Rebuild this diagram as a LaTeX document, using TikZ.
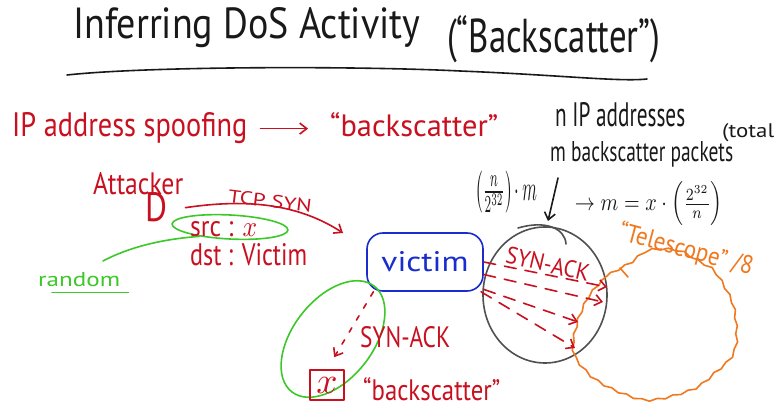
\documentclass[tikz,border=0pt]{standalone}
\usepackage{fontspec}
\setmainfont{PT Sans}
\usepackage{graphicx}
\usetikzlibrary{arrows.meta,shapes.geometric,decorations.pathmorphing}

% text box scaled to a given width and height above the baseline
\newcommand\hw[3]{\resizebox{#1pt}{#2pt}{#3}}

\definecolor{ink}{RGB}{25,25,25}
\definecolor{penred}{RGB}{200,16,32}
\definecolor{pengreen}{RGB}{60,200,40}
\definecolor{penblue}{RGB}{25,45,205}
\definecolor{penorange}{RGB}{240,120,30}
\definecolor{pengray}{RGB}{80,80,80}

\begin{document}
\begin{tikzpicture}[x=1pt,y=-1pt,
  txt/.style={inner sep=0pt, anchor=base west},
  lbl/.style={inner sep=0pt},
  stroke/.style={line width=1.6pt, line cap=round, line join=round},
  barb/.style={-{Straight Barb[length=7pt,width=11pt]}},
  ray/.style={stroke, penred, dash pattern=on 12pt off 9pt, barb},
  ring/.style={ellipse, draw, line width=1.6pt, inner sep=0pt}]

\fill[white] (0,0) rectangle (781,419);
\useasboundingbox (0,0) rectangle (781,419);

% ---- heading ----
\node[txt, text=ink] (title) at (73,39) {\hw{347}{31}{Inferring DoS Activity}};
\node[txt, text=ink] (titleb) at (447,53) {\hw{213}{37}{(“Backscatter”)}};
\draw[stroke, ink] (67,75) .. controls (150,66) and (360,66) .. (460,71)
  .. controls (560,75) and (620,82) .. (647,79);

% ---- spoofing line ----
\node[txt, text=penred] (spoof) at (12,137) {\hw{235}{24}{IP address spoofing}};
\node[txt, text=penred] (bs) at (330,137) {\hw{168}{24}{“backscatter”}};
\draw[stroke, penred, barb, shorten <=13pt, shorten >=22pt]
  (spoof.east) -- (spoof.east -| bs.west);

% ---- estimate ----
\node[txt, text=ink] (naddr) at (555,127) {\hw{130}{24}{n IP addresses}};
\node[txt, text=ink] (total) at (722,138) {\hw{52}{14}{(total}};
\node[txt, text=ink] (mpk) at (550,162) {\hw{183}{20}{m backscatter packets}};
\node[lbl, text=ink] (frac) at (506,192)
  {\resizebox*{62pt}{42pt}{$\left(\frac{n}{2^{32}}\right)\!\cdot m$}};
\node[lbl, text=ink] (mform) at (649,204)
  {\resizebox*{148pt}{44pt}{$\to m = x\cdot\left(\frac{2^{32}}{n}\right)$}};
\coordinate (dnA) at (558,178);
\coordinate (dnB) at (548,221);
\draw[stroke, ink, barb] (dnA) -- (dnB);

% ---- attacker ----
\node[txt, text=penred] (att) at (93,195) {\hw{90}{22}{Attacker}};
\node[txt, text=penred] (D) at (145,222) {\hw{22}{29}{D}};
\coordinate (synEnd) at (343,233);
\draw[stroke, penred, barb] ([xshift=18pt]D.east)
  .. controls (250,198) and (300,205) .. (synEnd);
\node[lbl, text=penred, rotate=-7] (tcpsyn) at (270,201) {\hw{84}{13}{TCP SYN}};

\node[ring, draw=pengreen, minimum width=116pt, minimum height=24pt, rotate=-3]
  (srcring) at (230,227) {};
\node[txt, text=penred] (src) at (190,237) {\hw{67}{15}{src : $x$}};
\node[txt, text=penred] (dst) at (190,266) {\hw{117}{22}{dst : Victim}};
\node[txt, text=pengreen] (rnd) at (38,287) {\hw{82}{14}{random}};
\draw[stroke, pengreen] ([shift={(14pt,-5pt)}]rnd.south west)
  -- ([shift={(8pt,-5pt)}]rnd.south east);
\coordinate (rndEnd) at (103,261);
\draw[stroke, pengreen] (srcring.200) .. controls (150,240) and (120,252) .. (rndEnd);

% ---- victim ----
\node[stroke, draw=penblue, rounded corners=16pt, minimum width=116pt,
  minimum height=58pt, inner sep=0pt, text=penblue] (victim) at (425,262)
  {\hw{87}{20}{victim}};

% ---- backscatter reaching the spoofed source ----
\node[ring, draw=pengreen, minimum width=134pt, minimum height=80pt, rotate=52]
  (capture) at (333,339) {};
\node[stroke, draw=penred, minimum width=34pt, minimum height=30pt, inner sep=0pt,
  text=penred] (xbox) at (327,385) {\resizebox{!}{16pt}{$x$}};
\draw[stroke, penred, dash pattern=on 5pt off 9pt, barb, shorten >=14pt]
  (victim.-150) -- (xbox.north);
\node[txt, text=penred] (ack2) at (360,348) {\hw{90}{21}{SYN-ACK}};
\node[txt, text=penred] (bs2) at (363,400) {\hw{137}{23}{“backscatter”}};

% ---- backscatter spread over the address space ----
\node[ring, draw=pengray, minimum width=124pt, minimum height=136pt] (hits) at (545,295) {};
\draw[stroke, pengray] (518,228) .. controls (545,220) and (565,228) .. (566,244);
\node[lbl, text=penred, rotate=-13] (ack1) at (548,264) {\hw{85}{17}{SYN-ACK}};

% ---- telescope ----
\draw[line width=1.6pt, penorange, line join=round, decorate,
  decoration={snake, amplitude=1pt, segment length=16pt}]
  plot[smooth cycle] coordinates {(597,285) (607,276) (627,265) (643,253) (660,251)
  (677,253) (693,262) (710,272) (721,288) (730,307) (733,327) (733,347) (727,361)
  (713,374) (693,390) (662,400) (640,402) (613,393) (590,380) (573,361) (570,345)
  (575,322) (583,303) (589,294)};
\draw[stroke, penorange] (620,268) -- (628,277);
\node[lbl, text=penorange, rotate=-15] (tlabel) at (686,250) {\hw{138}{20}{“Telescope” /8}};

\coordinate (t1) at (607,287);
\coordinate (t2) at (603,302);
\coordinate (t3) at (578,322);
\coordinate (t4) at (575,348);
\draw[ray] (victim.east) -- (t1);
\draw[ray] (victim.-12) -- (t2);
\draw[ray] (victim.-25) -- (t3);
\draw[ray] (victim.-28) -- (t4);

\end{tikzpicture}
\end{document}
